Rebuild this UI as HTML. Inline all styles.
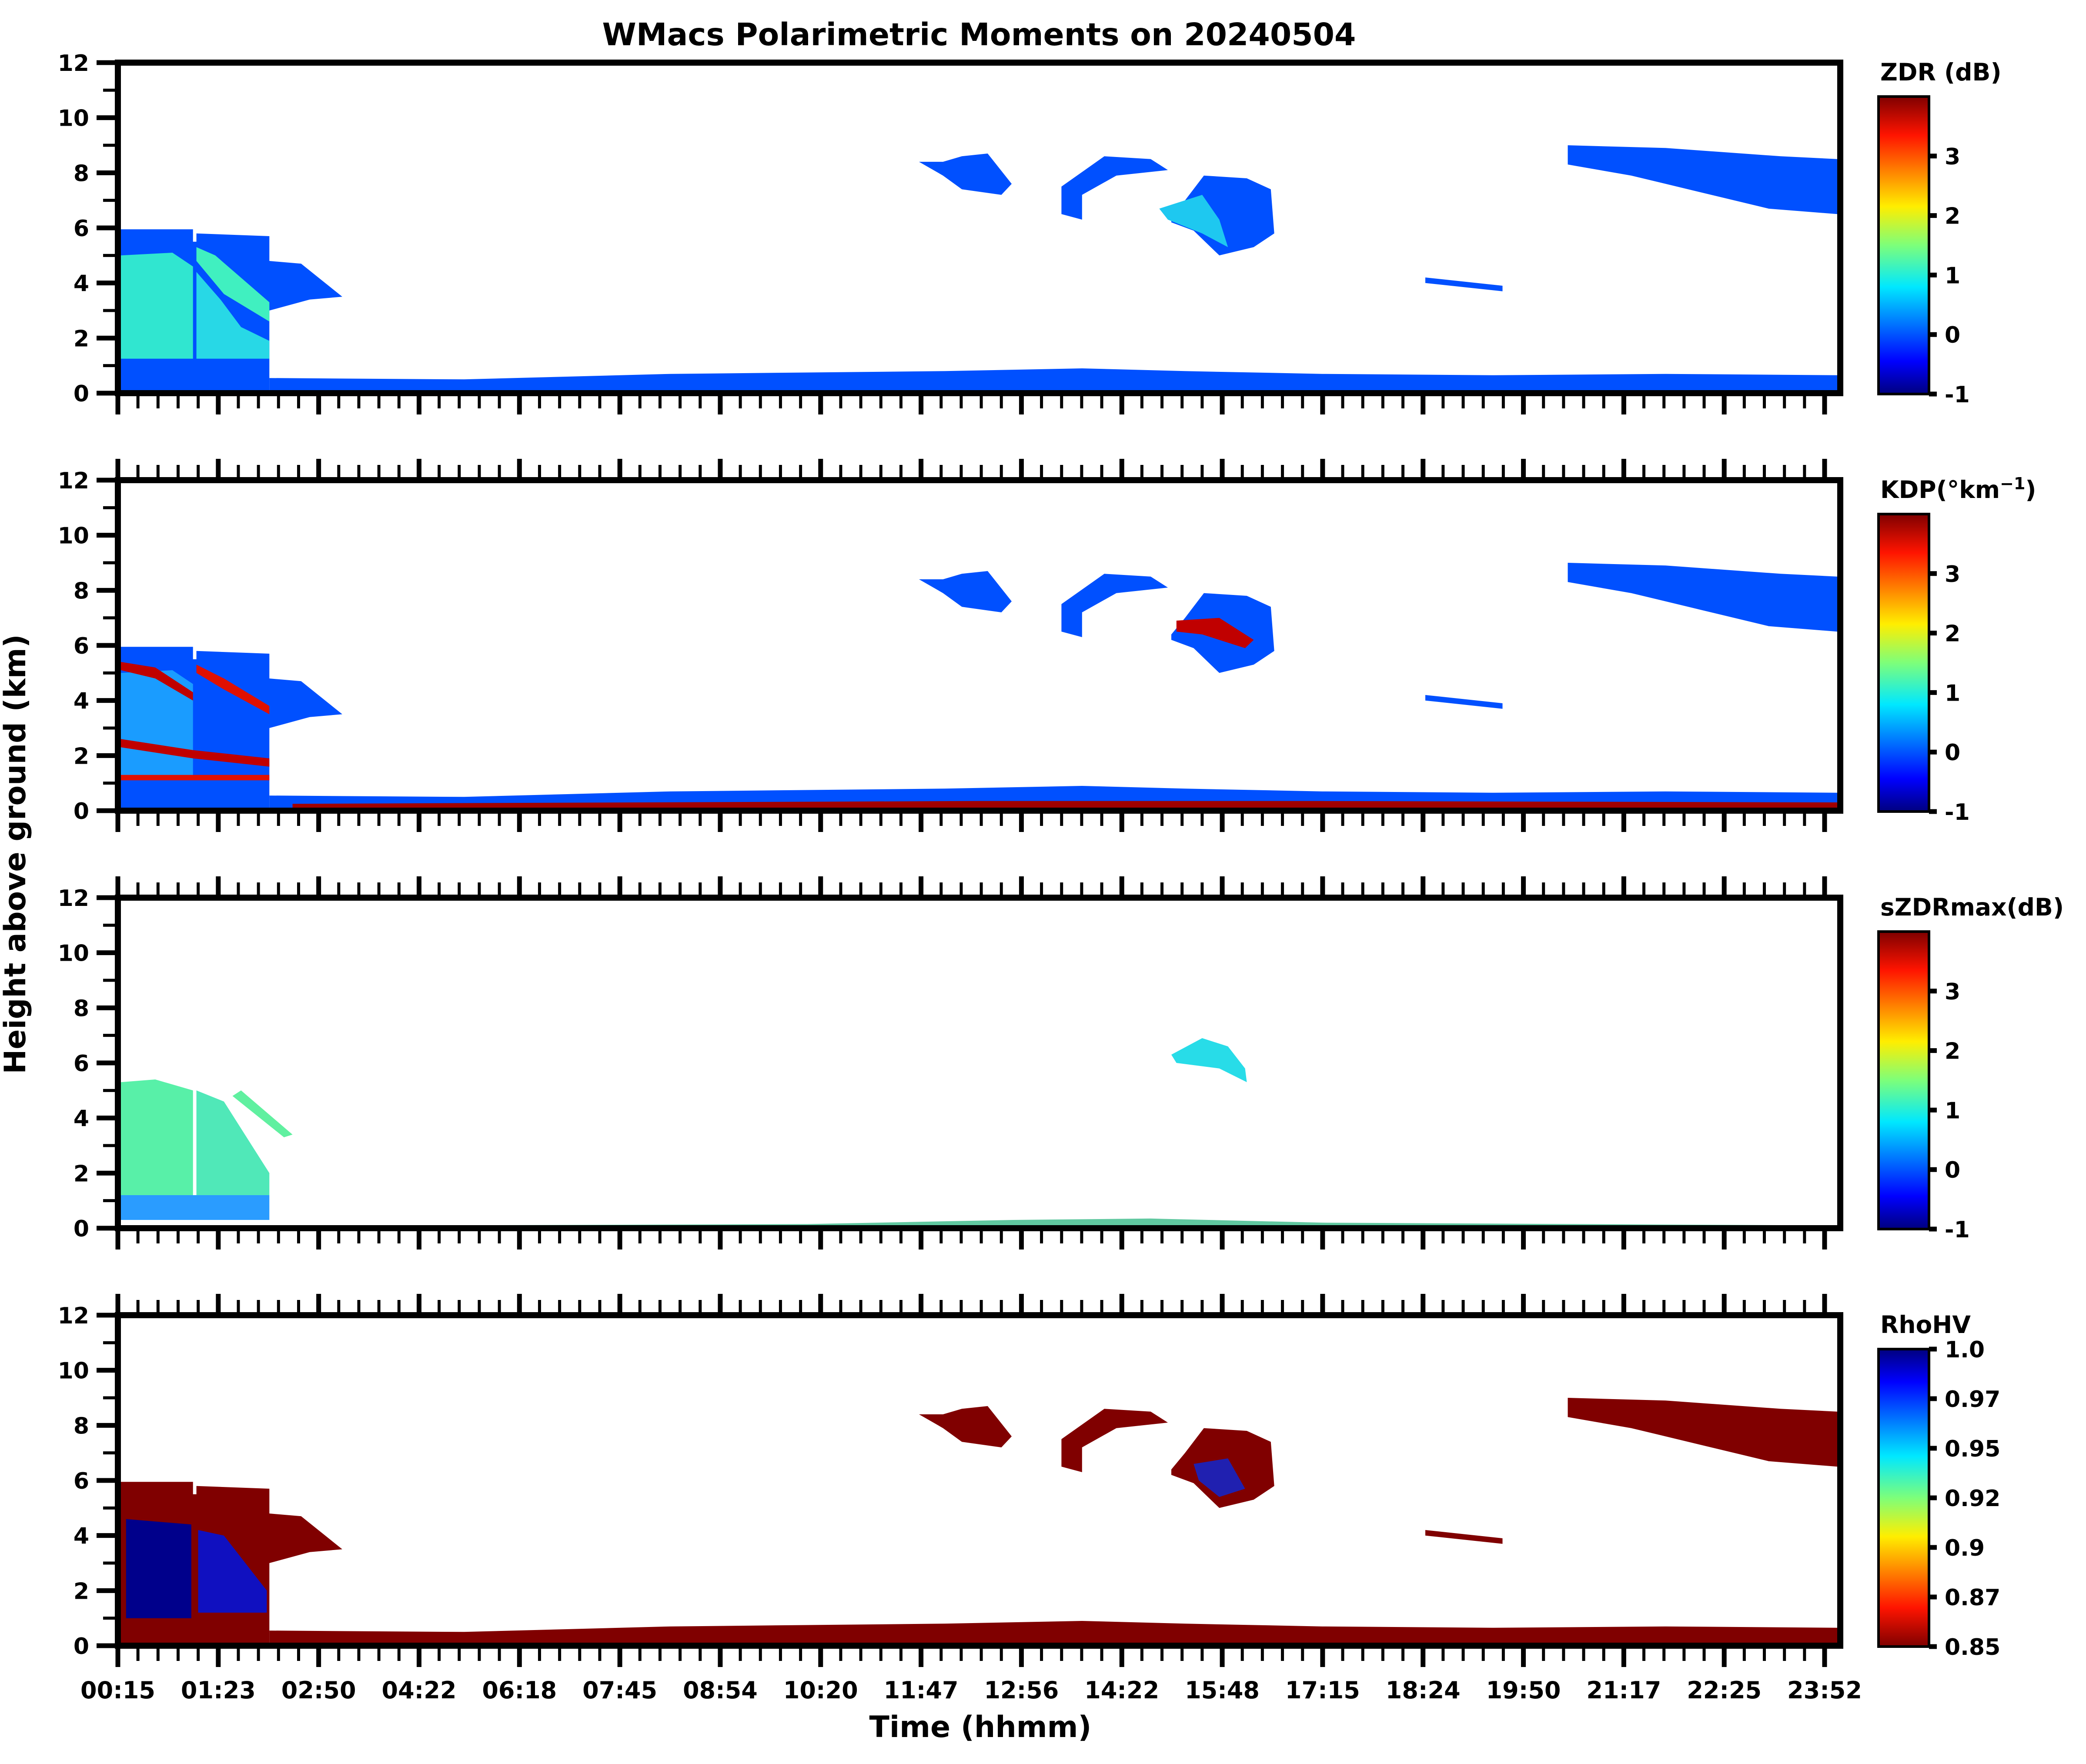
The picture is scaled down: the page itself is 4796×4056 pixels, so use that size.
<!DOCTYPE html>
<html>
<head>
<meta charset="utf-8">
<style>
  html,body{margin:0;padding:0;background:#fff;}
  svg{display:block;}
  text{font-family:"DejaVu Sans","Liberation Sans",sans-serif;font-weight:bold;fill:#000;}
</style>
</head>
<body>
<svg id="fig" xmlns="http://www.w3.org/2000/svg" width="4796" height="4056" viewBox="0 0 4796 4056">
  <defs>
    <linearGradient id="jet" x1="0" y1="1" x2="0" y2="0">
      <stop offset="0" stop-color="#00007f"/>
      <stop offset="0.11" stop-color="#0000ff"/>
      <stop offset="0.36" stop-color="#00e8ff"/>
      <stop offset="0.5" stop-color="#7dff7a"/>
      <stop offset="0.63" stop-color="#ffee00"/>
      <stop offset="0.87" stop-color="#ff1400"/>
      <stop offset="1" stop-color="#7f0000"/>
    </linearGradient>
    <linearGradient id="jetr" x1="0" y1="0" x2="0" y2="1">
      <stop offset="0" stop-color="#00007f"/>
      <stop offset="0.11" stop-color="#0000ff"/>
      <stop offset="0.36" stop-color="#00e8ff"/>
      <stop offset="0.5" stop-color="#7dff7a"/>
      <stop offset="0.63" stop-color="#ffee00"/>
      <stop offset="0.87" stop-color="#ff1400"/>
      <stop offset="1" stop-color="#7f0000"/>
    </linearGradient>
  </defs>
  <text x="2251" y="104" font-size="71" text-anchor="middle">WMacs Polarimetric Moments on 20240504</text>
  <text x="2254" y="3994" font-size="68" text-anchor="middle">Time (hhmm)</text>
  <text x="0" y="0" font-size="68" text-anchor="middle" transform="translate(58,1964) rotate(-90)">Height above ground (km)</text>
</svg>
<script>
// ---- data (time as % of record, height in km) ----
const timeLabels = ["00:15","01:23","02:50","04:22","06:18","07:45","08:54","10:20","11:47","12:56","14:22","15:48","17:15","18:24","19:50","21:17","22:25","23:52"];
const heightTicks = [0,2,4,6,8,10,12];
const panelLabels = ["ZDR (dB)","KDP","sZDRmax(dB)","RhoHV"];
const jetTicks = [-1,0,1,2,3];
const jetRange = [-1,4];
const rhoTicks = [0.85,0.875,0.9,0.925,0.95,0.975,1.0];
const rhoTickLabels = ["0.85","0.87","0.9","0.92","0.95","0.97","1.0"];
const rhoRange = [0.85,1.0];

// echo outlines shared by panels
const earlyBlock = [[0,0],[0,5.95],[4.2,5.95],[4.2,5.5],[4.4,5.5],[4.4,5.8],[8.65,5.7],[8.65,4.8],[10.5,4.7],[12.9,3.5],[11,3.4],[8.65,3],[8.65,0]];
const lowBand = [[8.65,0],[8.65,0.55],[20,0.5],[26,0.6],[32,0.7],[40,0.75],[48,0.8],[56,0.9],[62,0.8],[70,0.7],[80,0.65],[90,0.7],[100,0.65],[100,0]];
const cloud1 = [[46.5,8.4],[47.9,8.4],[49,8.6],[50.5,8.7],[51.9,7.6],[51.3,7.2],[49,7.4],[47.9,7.9]];
const cloud2 = [[54.8,7.5],[57.3,8.6],[60,8.5],[61,8.1],[58,7.9],[56,7.2],[56,6.3],[54.8,6.5]];
const cloud3 = [[61.2,6.4],[62,7],[63.1,7.9],[65.6,7.8],[67,7.4],[67.2,5.8],[66,5.3],[64,5],[62.5,5.9],[61.2,6.2]];
const cloud4 = [[84.3,9],[90,8.9],[96.7,8.6],[100,8.5],[100,6.5],[96,6.7],[92,7.3],[88,7.9],[84.3,8.3]];
const cloud5 = [[76,4.2],[80.5,3.9],[80.5,3.7],[76,4]];

// ZDR
const zdrCyanA = [[0,1.25],[0,5],[3,5.1],[4.2,4.6],[4.2,1.25]];
const zdrCyanB = [[4.4,1.25],[4.4,4.4],[5.8,3.4],[7,2.4],[8.65,1.9],[8.65,1.25]];
const zdrCyanC = [[4.4,5.3],[5.5,5.0],[8.65,3.3],[8.65,2.6],[6,3.6],[4.4,4.8]];
const zdrCyanD = [[60.5,6.7],[63,7.2],[64,6.3],[64.5,5.3],[63,5.8],[61,6.3]];
// KDP
const kdpStreaks = [[[0,5.4],[2,5.2],[4.2,4.3],[4.2,4.0],[2,4.8],[0,5.1]],[[4.4,5.3],[6,4.8],[8.65,3.8],[8.65,3.5],[6,4.4],[4.4,5.0]],[[0,2.6],[4.2,2.2],[8.65,1.9],[8.65,1.6],[4.2,1.9],[0,2.3]],[[0,1.3],[8.65,1.3],[8.65,1.1],[0,1.1]],[[61.5,6.9],[64,7.0],[66,6.2],[65.5,5.9],[63,6.4],[61.5,6.5]]];
const kdpRedBand = [[10,0.05],[10,0.25],[30,0.3],[50,0.35],[70,0.35],[100,0.3],[100,0.05]];
// sZDRmax
const szdrEarlyA = [[0,0.3],[0,5.3],[2,5.4],[4.2,5.0],[4.2,0.3]];
const szdrEarlyB = [[4.4,1.2],[4.4,5.0],[6,4.6],[8.65,2.0],[8.65,1.2]];
const szdrStreak = [[7,5.0],[10,3.4],[9.5,3.3],[6.5,4.8]];
const szdrLow = [[0,0.3],[0,1.2],[8.65,1.2],[8.65,0.3]];
const szdrPatch = [[61.2,6.3],[63,6.9],[64.5,6.6],[65.5,5.8],[65.6,5.3],[64,5.8],[61.5,6.0]];
const szdrBand = [[8.65,0],[8.65,0.08],[40,0.15],[52,0.3],[60,0.35],[70,0.2],[100,0.1],[100,0]];
// RhoHV
const rhoBlueA = [[0.3,1.0],[0.3,4.6],[4.1,4.4],[4.1,1.0]];
const rhoBlueB = [[4.5,1.2],[4.5,4.2],[6,4.0],[8.5,2.0],[8.5,1.2]];
const rhoBlueC = [[62.5,6.6],[64.5,6.8],[65.5,5.7],[64,5.4],[62.8,6.0]];

// ---- layout ----
const svg = document.getElementById('fig');
const NS = 'http://www.w3.org/2000/svg';
const L = 271, R = 4231, panelTop0 = 144, panelH = 760, panelStep = 960;
const cbL = 4319, cbR = 4435;
function xS(t){ return 278 + t*(4224-278)/100; }
function yS(h,i){ return panelTop0 + panelStep*i + panelH - h*panelH/12; }
function el(tag, attrs, parent){ const e=document.createElementNS(NS,tag); for(const k in attrs) e.setAttribute(k,attrs[k]); (parent||svg).appendChild(e); return e; }

function poly(pts, color, i, g, name){
  const p = el('polygon',{points: pts.map(q=>xS(q[0]).toFixed(1)+','+yS(q[1],i).toFixed(1)).join(' '), fill: color}, g);
  
  
}

const blue = '#0050ff', dred = '#800000', cyan = '#30e6d0', dblue='#00008b';
const clouds = [cloud1,cloud2,cloud3,cloud4,cloud5];

for(let i=0;i<4;i++){
  const g = el('g',{});
  
  
  if(i===0){
    poly(earlyBlock, blue, i, g, 'early-echo-block');
    poly(zdrCyanA, cyan, i, g, 'cyan-region-a');
    poly(zdrCyanB, '#28d8e6', i, g, 'cyan-region-b');
    poly(zdrCyanC, '#40f0c0', i, g, 'cyan-streak');
    poly(lowBand, blue, i, g, 'low-level-band');
    clouds.forEach((c,k)=>poly(c, blue, i, g, 'cloud-'+(k+1)));
    poly(zdrCyanD, '#1ec8f0', i, g, 'cloud-core');
  } else if(i===1){
    poly(earlyBlock, blue, i, g, 'early-echo-block');
    poly(zdrCyanA, '#1a9cff', i, g, 'light-region-a');
    poly(lowBand, blue, i, g, 'low-level-band');
    poly(kdpRedBand, '#a00000', i, g, 'red-band');
    clouds.forEach((c,k)=>poly(c, blue, i, g, 'cloud-'+(k+1)));
    kdpStreaks.forEach((s,k)=>poly(s, k%2?'#e01000':'#c00000', i, g, 'kdp-streak-'+(k+1)));
  } else if(i===2){
    poly(szdrEarlyA, '#58f0a8', i, g, 'early-region-a');
    poly(szdrEarlyB, '#50e8b8', i, g, 'early-region-b');
    poly(szdrStreak, '#60f0a0', i, g, 'early-streak');
    poly(szdrLow, '#2a9cff', i, g, 'early-low');
    poly(szdrPatch, '#28dce8', i, g, 'cloud-patch');
    poly(szdrBand, '#60c8a0', i, g, 'low-level-band');
  } else {
    poly(earlyBlock, dred, i, g, 'early-echo-block');
    poly(lowBand, dred, i, g, 'low-level-band');
    clouds.forEach((c,k)=>poly(c, dred, i, g, 'cloud-'+(k+1)));
    poly(rhoBlueA, dblue, i, g, 'low-rho-a');
    poly(rhoBlueB, '#1010c0', i, g, 'low-rho-b');
    poly(rhoBlueC, '#2020b0', i, g, 'low-rho-c');
  }

  const top = panelTop0 + panelStep*i, bot = top + panelH;
  const fr = el('rect',{x:L,y:top,width:R-L,height:panelH,fill:'none',stroke:'#000','stroke-width':14});
  
  
  const step = (4195-271)/17, mstep = step/5;
  for(let k=0;k*mstep<=R-L+1;k++){
    const x = L + k*mstep, major = (k%5===0), len = major?49:35, w = major?11:7;
    const tb = el('line',{x1:x,x2:x,y1:bot,y2:bot+len,stroke:'#000','stroke-width':w});
    
    
    if(i>0){
      const tt = el('line',{x1:x,x2:x,y1:top,y2:top-len,stroke:'#000','stroke-width':w});
      
      
    }
  }
  for(let h=0;h<=12;h++){
    const y = yS(h,i), major = (h%2===0);
    const t = el('line',{x1:L-(major?49:34),x2:L,y1:y,y2:y,stroke:'#000','stroke-width':major?11:7});
    
    
  }
  heightTicks.forEach(h=>{
    const tx = el('text',{x:205,y:yS(h,i)+19,'font-size':52,'text-anchor':'end'});
    tx.textContent = String(h);
    
    
  });
  const cbTop = 222 + panelStep*i, cbBot = bot + 2, cbH = cbBot - cbTop;
  const cb = el('rect',{x:cbL,y:cbTop,width:cbR-cbL,height:cbH,fill:i===3?'url(#jetr)':'url(#jet)',stroke:'#000','stroke-width':6});
  
  
  const ticks = i===3?rhoTicks:jetTicks, rng = i===3?rhoRange:jetRange;
  ticks.forEach((v,k)=>{
    const y = cbBot - (v-rng[0])/(rng[1]-rng[0])*cbH;
    const ln = el('line',{x1:cbR,x2:cbR+18,y1:y,y2:y,stroke:'#000','stroke-width':11});
    
    
    const tx = el('text',{x:cbR+36,y:y+19,'font-size':52});
    tx.textContent = i===3?rhoTickLabels[k]:String(v);
    
    
  });
  const lab = el('text',{x:4323,y:185+panelStep*i,'font-size':55});
  if(i===1){
    lab.textContent = 'KDP(°km';
    const sup = el('tspan',{dy:-20,'font-size':38},lab); sup.textContent='−1';
    const cl = el('tspan',{dy:20},lab); cl.textContent=')';
  } else lab.textContent = panelLabels[i];
  
  
}
const lstep = (4195-271)/17;
timeLabels.forEach((s,k)=>{
  const tx = el('text',{x:271+k*lstep,y:3905,'font-size':54,'text-anchor':'middle'});
  tx.textContent = s;
  
  
});
</script>
</body>
</html>
